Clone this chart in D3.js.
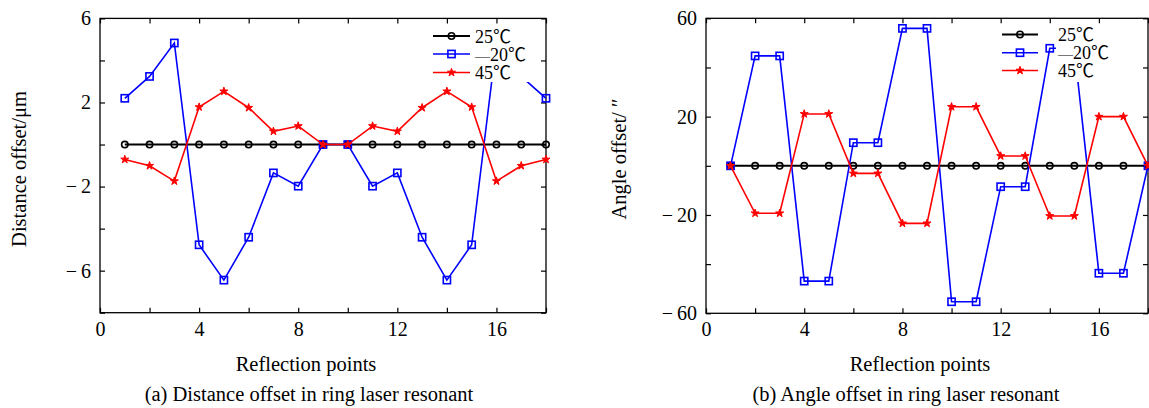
<!DOCTYPE html>
<html>
<head>
<meta charset="utf-8">
<script src="https://cdn.jsdelivr.net/npm/d3@7"></script>
<style>
  html, body { margin: 0; padding: 0; background: #fff; }
  svg { display: block; }
</style>
</head>
<body>
<svg id="chart" width="1149" height="408"></svg>
<script>
// ---------- data ----------
const reflectionPoints = [1, 2, 3, 4, 5, 6, 7, 8, 9, 10, 11, 12, 13, 14, 15, 16, 17, 18];
const seriesNumbers = ["25", "\u221220", "45"];
const unitSymbol = "℃";

const distance25 = [0, 0, 0, 0, 0, 0, 0, 0, 0, 0, 0, 0, 0, 0, 0, 0, 0, 0];
const distanceMinus20 = [2.2, 3.24, 4.83, -4.77, -6.45, -4.41, -1.35, -1.98, 0, 0, -1.98, -1.35, -4.41, -6.45, -4.77, 4.83, 3.24, 2.2];
const distance45 = [-0.71, -1.01, -1.74, 1.78, 2.53, 1.75, 0.63, 0.88, 0, 0, 0.88, 0.63, 1.75, 2.53, 1.78, -1.74, -1.01, -0.71];

const angle25 = [0, 0, 0, 0, 0, 0, 0, 0, 0, 0, 0, 0, 0, 0, 0, 0, 0, 0];
const angleMinus20 = [0, 44.7, 44.7, -46.9, -46.9, 9.4, 9.4, 55.9, 55.9, -55.3, -55.3, -8.5, -8.5, 47.8, 47.8, -43.7, -43.7, 0];
const angle45 = [0, -19.3, -19.3, 21.1, 21.1, -3.1, -3.1, -23.4, -23.4, 24.0, 24.0, 4.0, 4.0, -20.4, -20.4, 20.0, 20.0, 0];

const xTicks = [0, 2, 4, 6, 8, 10, 12, 14, 16, 18];
const xTickLabels = [0, 4, 8, 12, 16];
const distanceTicks = [-8, -6, -4, -2, 0, 2, 4, 6];
const distanceTickLabels = [6, 2, -2, -6];
const angleTicks = [-60, -40, -20, 0, 20, 40, 60];
const angleTickLabels = [60, 20, -20, -60];

const xTitle = "Reflection points";

// ---------- drawing ----------
const SERIF = "'Liberation Serif', 'DejaVu Serif', serif";
const CJK = "'Noto Sans CJK SC', 'Noto Sans CJK JP', sans-serif";
const svg = d3.select("#chart");
const colors = ["#000000", "#0000ff", "#ff0000"];
const lineWidths = [2, 1.6, 1.6];

function fmt(v) {
  return v < 0 ? "\u2212\u2009" + Math.abs(v) : String(v);
}

function marker(g, kind, x, y, color) {
  if (kind === 0) {
    g.append("circle").attr("cx", x).attr("cy", y).attr("r", 3.2)
      .attr("fill", "none").attr("stroke", color).attr("stroke-width", 1.6);
  } else if (kind === 1) {
    g.append("rect").attr("x", x - 3.6).attr("y", y - 3.6).attr("width", 7.2).attr("height", 7.2)
      .attr("fill", "none").attr("stroke", color).attr("stroke-width", 1.6);
  } else {
    g.append("path").attr("d", d3.symbol(d3.symbolStar, 20)())
      .attr("transform", `translate(${x},${y})`)
      .attr("fill", color).attr("stroke", color).attr("stroke-width", 1);
  }
}

function drawPanel(p) {
  const g = svg.append("g").attr("font-family", SERIF);
  const x = d3.scaleLinear().domain([0, 18]).range([p.left, p.right]);
  const y = d3.scaleLinear().domain(p.yDomain).range([p.bottom, p.top]);

  const bottomAxis = d3.axisBottom(x).tickValues(xTicks).tickSizeInner(-5).tickSizeOuter(0).tickPadding(9)
    .tickFormat(d => xTickLabels.includes(d) ? fmt(d) : "");
  const topAxis = d3.axisTop(x).tickValues(xTicks).tickSizeInner(-5).tickSizeOuter(0).tickFormat("");
  const leftAxis = d3.axisLeft(y).tickValues(p.yTicks).tickSizeInner(-5).tickSizeOuter(0).tickPadding(9)
    .tickFormat(d => p.yLabels.includes(d) ? fmt(d) : "");
  const rightAxis = d3.axisRight(y).tickValues(p.yTicks).tickSizeInner(-5).tickSizeOuter(0).tickFormat("");

  [
    [bottomAxis, `translate(0,${p.bottom})`],
    [topAxis, `translate(0,${p.top})`],
    [leftAxis, `translate(${p.left},0)`],
    [rightAxis, `translate(${p.right},0)`]
  ].forEach(([ax, tr]) => {
    const a = g.append("g").attr("transform", tr).call(ax);
    a.attr("font-family", SERIF).attr("font-size", 20);
    a.select(".domain").remove();
    a.selectAll("line").attr("stroke", "#000").attr("stroke-width", 1.2);
    a.selectAll("text").attr("fill", "#000").attr("font-family", SERIF);
  });

  g.append("rect").attr("x", p.left).attr("y", p.top)
    .attr("width", p.right - p.left).attr("height", p.bottom - p.top)
    .attr("fill", "none").attr("stroke", "#000").attr("stroke-width", 1.3);

  p.series.forEach((vals, i) => {
    const pts = reflectionPoints.map((r, k) => [x(r), y(vals[k])]);
    g.append("path").attr("d", d3.line()(pts))
      .attr("fill", "none").attr("stroke", colors[i]).attr("stroke-width", lineWidths[i]);
    const mg = g.append("g");
    pts.forEach(pt => marker(mg, i, pt[0], pt[1], colors[i]));
  });

  // legend
  const lg = g.append("g");
  lg.append("rect").attr("x", p.legTextX - 2).attr("y", 27)
    .attr("width", 64).attr("height", 55).attr("fill", "#fff");
  seriesNumbers.forEach((num, i) => {
    const ly = p.legRows[i];
    lg.append("line").attr("x1", p.legX0).attr("x2", p.legX1).attr("y1", ly).attr("y2", ly)
      .attr("stroke", colors[i]).attr("stroke-width", lineWidths[i]);
    marker(lg, i, (p.legX0 + p.legX1) / 2, ly, colors[i]);
    const t = lg.append("text").attr("x", p.legTextX).attr("y", ly + 6.5)
      .attr("font-size", 18).attr("fill", "#000").attr("font-family", SERIF);
    if (num.startsWith("\u2212")) {
      t.append("tspan").attr("font-size", 15).text("\u2014");
      t.append("tspan").attr("font-size", 18).text(num.slice(1));
    } else {
      t.append("tspan").text(num);
    }
    t.append("tspan").attr("font-family", CJK).attr("font-size", 18).text(unitSymbol);
  });

  g.append("text").attr("x", p.xTitleX).attr("y", 371).attr("text-anchor", "middle")
    .attr("font-size", 20.5).attr("fill", "#000").attr("font-family", SERIF).text(xTitle);
  g.append("text").attr("x", p.captionX).attr("y", 401).attr("text-anchor", "middle")
    .attr("font-size", 20.5).attr("fill", "#000").attr("font-family", SERIF).text(p.caption);
  g.append("text").attr("transform", `translate(${p.yTitleX},${p.yTitleY}) rotate(-90)`)
    .attr("text-anchor", "middle").attr("dy", "0.35em")
    .attr("font-size", 20.5).attr("fill", "#000").attr("font-family", SERIF).text(p.yTitle);
}

drawPanel({
  left: 100, right: 546, top: 18.4, bottom: 312.7,
  yDomain: [-8, 6], yTicks: distanceTicks, yLabels: distanceTickLabels,
  series: [distance25, distanceMinus20, distance45],
  legX0: 433, legX1: 470, legTextX: 475, legRows: [36, 54, 72.5],
  xTitleX: 306, captionX: 309, yTitleX: 19, yTitleY: 169,
  caption: "(a) Distance offset in ring laser resonant",
  yTitle: "Distance offset/μm"
});

drawPanel({
  left: 706, right: 1148, top: 18.3, bottom: 313.3,
  yDomain: [-60, 60], yTicks: angleTicks, yLabels: angleTickLabels,
  series: [angle25, angleMinus20, angle45],
  legX0: 1002, legX1: 1038, legTextX: 1058, legRows: [34.5, 52.7, 70.5],
  xTitleX: 920, captionX: 906, yTitleX: 619, yTitleY: 159,
  caption: "(b) Angle offset in ring laser resonant",
  yTitle: "Angle offset/ \u2033"
});
</script>
</body>
</html>
